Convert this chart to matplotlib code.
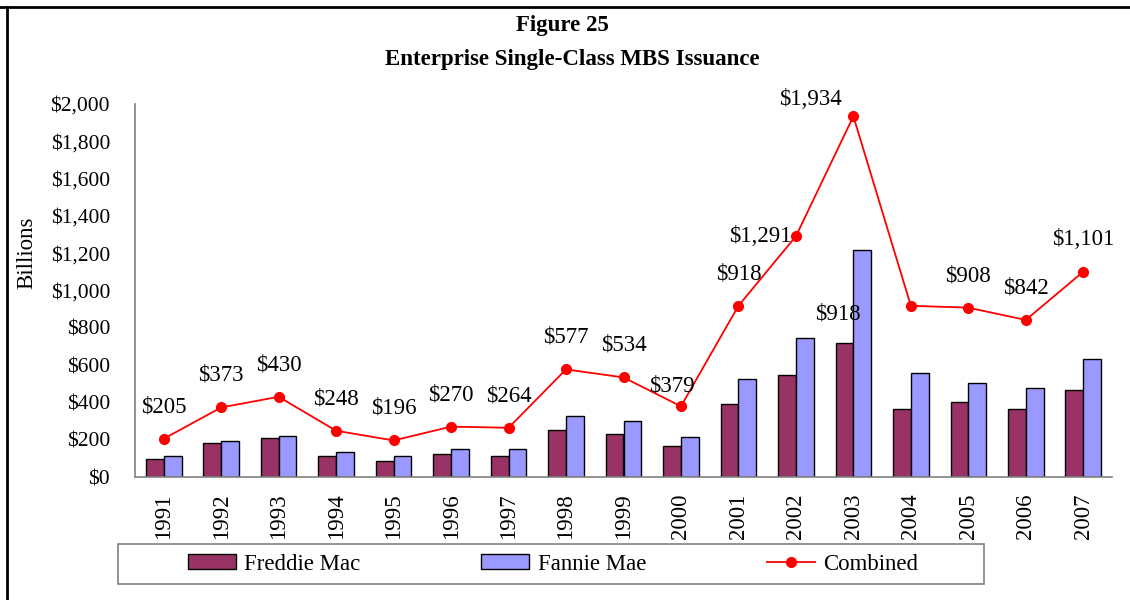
#!/usr/bin/env python3
# -*- coding: utf-8 -*-

import numpy as np
import matplotlib
matplotlib.use('Agg')
import matplotlib.pyplot as plt
from matplotlib.lines import Line2D
from matplotlib.patches import Rectangle

years = ['1991', '1992', '1993', '1994', '1995', '1996', '1997', '1998', '1999',
         '2000', '2001', '2002', '2003', '2004', '2005', '2006', '2007']
freddie = [97, 182, 211, 114, 84, 121, 114, 250, 233, 166, 393, 545, 718, 363, 402, 363, 469]
fannie = [114, 193, 218, 134, 112, 149, 150, 327, 301, 213, 525, 746, 1216, 555, 506, 479, 632]
combined = [205, 373, 430, 248, 196, 270, 264, 577, 534, 379, 918, 1291, 1934, 918, 908, 842, 1101]

# label offsets in pixels (dx, dy), default is straight above the point
offsets = {9: (-9, 20), 11: (-36, 0), 12: (-43, 17), 13: (-73, -8)}

plt.rcParams['font.family'] = ['Liberation Serif', 'DejaVu Serif']
fs = 15.5
fs_big = 16.5


def main():
    fig = plt.figure(figsize=(11.3, 6.0), dpi=100)
    ax = fig.add_axes([135 / 1130, 1 - 477 / 600, (1112 - 135) / 1130, (477 - 104) / 600])

    x = np.arange(len(years))
    w = 0.31
    ax.bar(x - w / 2, freddie, w, color='#993366', edgecolor='black', linewidth=1.0,
           label='Freddie Mac', zorder=2)
    ax.bar(x + w / 2, fannie, w, color='#9999FF', edgecolor='black', linewidth=1.0,
           label='Fannie Mae', zorder=2)
    ax.plot(x, combined, color='#FF0000', linewidth=1.3, marker='o', markersize=7,
            label='Combined', zorder=3)

    for i, v in enumerate(combined):
        dx, dy = offsets.get(i, (0, 32))
        ax.annotate('${:,}'.format(v), (x[i], v), xytext=(dx, dy), textcoords='offset pixels',
                    ha='center', va='center', fontsize=fs_big)

    ax.set_xlim(-0.5, len(years) - 0.5)
    ax.set_ylim(0, 2000)
    ax.set_yticks(range(0, 2001, 200))
    ax.set_yticklabels(['${:,}'.format(t) for t in range(0, 2001, 200)], fontsize=fs)
    ax.set_xticks(x)
    ax.set_xticklabels(years, rotation=90, fontsize=fs_big)
    ax.tick_params(axis='y', length=0, pad=18)
    ax.tick_params(axis='x', length=0, pad=12)
    for s in ['top', 'right']:
        ax.spines[s].set_visible(False)
    for s in ['left', 'bottom']:
        ax.spines[s].set_color('#808080')
        ax.spines[s].set_linewidth(1.2)

    fig.text(27 / 1130, 1 - 253 / 600, 'Billions', rotation=90, ha='center', va='center',
             fontsize=fs_big)
    fig.text(562 / 1130, 1 - 26 / 600, 'Figure 25', ha='center', va='center', fontsize=fs_big,
             fontweight='bold')
    fig.text(572 / 1130, 1 - 59 / 600, 'Enterprise Single-Class MBS Issuance', ha='center',
             va='center', fontsize=fs_big, fontweight='bold')

    # legend box
    fig.patches.append(Rectangle((118 / 1130, 1 - 584 / 600), (984 - 118) / 1130, 40 / 600,
                                 transform=fig.transFigure, fill=False,
                                 edgecolor='#808080', linewidth=1.2))
    handles, labels = ax.get_legend_handles_labels()
    order = [1, 2, 0]
    fig.legend([handles[i] for i in order], [labels[i] for i in order], loc='center',
               bbox_to_anchor=(553 / 1130, 1 - 564 / 600), ncol=3,
               frameon=False, fontsize=fs_big, columnspacing=5.3, handlelength=2.1,
               handletextpad=0.35, handleheight=0.6)

    # outer frame lines
    fig.add_artist(Line2D([0, 1], [1 - 7 / 600, 1 - 7 / 600], transform=fig.transFigure,
                          color='black', linewidth=2))
    fig.add_artist(Line2D([7 / 1130, 7 / 1130], [0, 1 - 7 / 600], transform=fig.transFigure,
                          color='black', linewidth=2))

    fig.savefig('out.png', dpi=100)


if __name__ == '__main__':
    main()
